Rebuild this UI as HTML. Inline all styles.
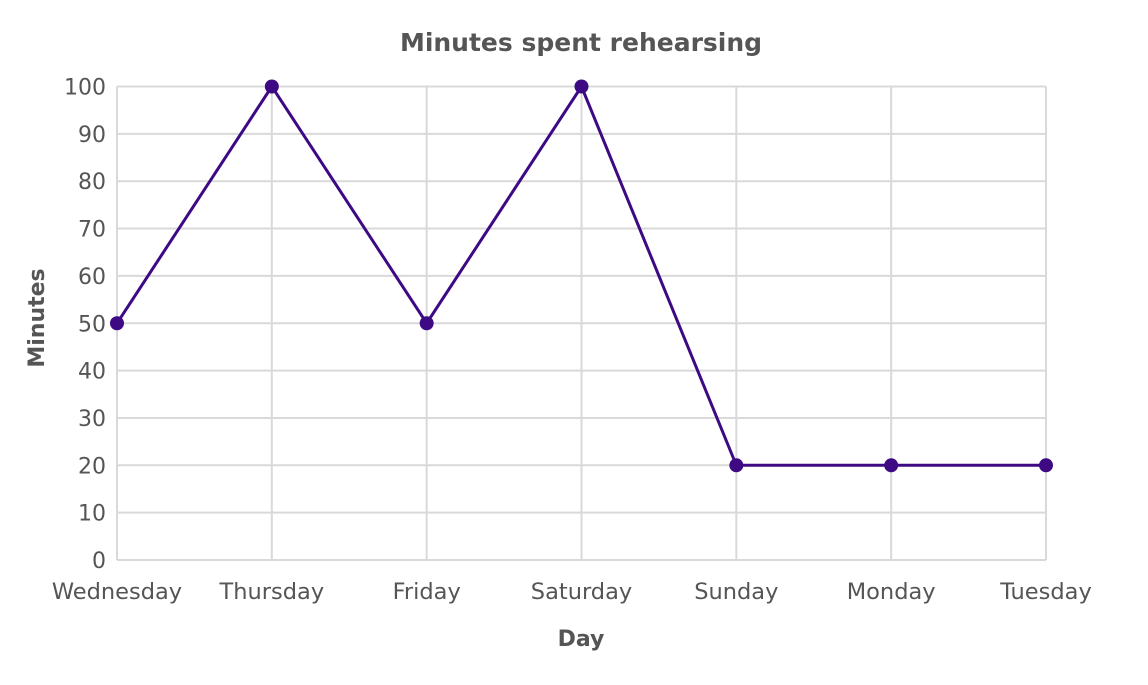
<!DOCTYPE html>
<html><head><meta charset="utf-8"><style>
body{margin:0;background:#fff;}
svg text{font-family:"DejaVu Sans","Liberation Sans",sans-serif;fill:#555;}
</style></head><body>
<svg id="chart" width="1148" height="680">
<text x="581" y="51" text-anchor="middle" font-size="25" font-weight="bold">Minutes spent rehearsing</text>
<text x="581" y="646" text-anchor="middle" font-size="22" font-weight="bold">Day</text>
<text transform="translate(44,318) rotate(-90)" text-anchor="middle" font-size="22" font-weight="bold">Minutes</text>
<g id="grid"></g><g id="ticks"></g><g id="series"></g>
</svg>
<script>
const categories=["Wednesday","Thursday","Friday","Saturday","Sunday","Monday","Tuesday"];
const minutes=[50,100,50,100,20,20,20];
const yTicks=[0,10,20,30,40,50,60,70,80,90,100];
const X0=117,X1=1046,Y0=560,Y1=86.5;
const xs=i=>X0+(X1-X0)*i/(categories.length-1);
const ys=v=>Y0-(Y0-Y1)*v/100;
const NS="http://www.w3.org/2000/svg";
function mk(t,a,p){const e=document.createElementNS(NS,t);for(const k in a)e.setAttribute(k,a[k]);p.appendChild(e);return e;}
const grid=document.getElementById('grid'),ticks=document.getElementById('ticks'),ser=document.getElementById('series');
yTicks.forEach(v=>{
 const l=mk('line',{x1:X0,x2:X1,y1:ys(v),y2:ys(v),stroke:'#d9d9d9','stroke-width':2},grid);
 
 
 const t=mk('text',{x:106,y:ys(v)+8,'text-anchor':'end','font-size':22},ticks);t.textContent=v;
 
 
});
categories.forEach((c,i)=>{
 const l=mk('line',{x1:xs(i),x2:xs(i),y1:Y1,y2:Y0,stroke:'#d9d9d9','stroke-width':2},grid);
 
 
 const t=mk('text',{x:xs(i),y:599,'text-anchor':'middle','font-size':22.5},ticks);t.textContent=c;
 
 
});
const pl=mk('polyline',{points:minutes.map((v,i)=>xs(i)+','+ys(v)).join(' '),fill:'none',stroke:'#3d0a84','stroke-width':3},ser);


minutes.forEach((v,i)=>{
 const c=mk('circle',{cx:xs(i),cy:ys(v),r:7,fill:'#3d0a84'},ser);
 
 
});
</script>
</body></html>
